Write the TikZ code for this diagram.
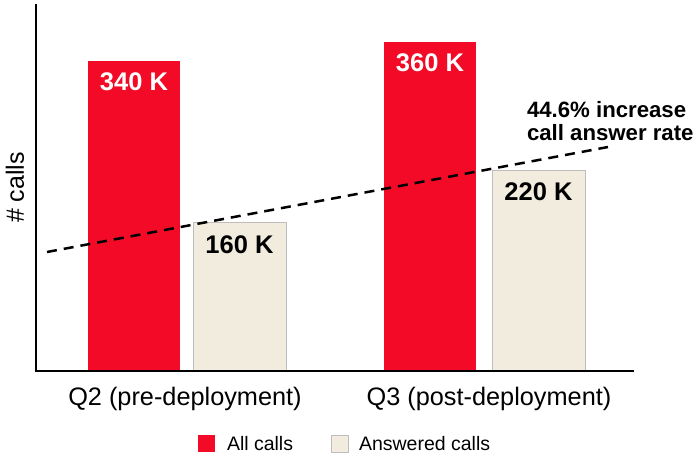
\documentclass[tikz,border=0pt]{standalone}
\usepackage{fontspec}
\setmainfont{Liberation Sans}
\usetikzlibrary{positioning}
\definecolor{callred}{HTML}{F20A26}
\definecolor{answerbeige}{HTML}{F2ECDF}
\definecolor{barborder}{HTML}{BDBDBD}

\begin{document}
\begin{tikzpicture}[
    x=1pt, y=-1pt,
    every node/.style={inner sep=0pt, outer sep=0pt},
    bar/.style={anchor=south west, minimum width=92pt},
    allbar/.style={bar, fill=callred},
    answbar/.style={bar, minimum width=93pt, fill=answerbeige, draw=barborder, line width=1pt},
    value/.style={font=\fontsize{25.5}{30}\selectfont\bfseries},
    axisline/.style={line width=2pt},
    trend/.style={line width=2.5pt, dash pattern=on 10pt off 7pt},
    catlabel/.style={font=\fontsize{25.3}{30}\selectfont},
    keybox/.style={minimum size=17pt, anchor=west},
    keytext/.style={font=\fontsize{19.5}{22}\selectfont, anchor=west}
]
    \useasboundingbox (0,0) rectangle (696,458);

    % Bars
    \node[allbar, minimum height=309pt] (q2all) at (88,370) {};
    \node[answbar, minimum height=147.5pt] (q2ans) at (193,370) {};
    \node[allbar, minimum height=328pt] (q3all) at (384,370) {};
    \node[answbar, minimum height=200pt] (q3ans) at (492,370) {};

    % Values
    \node[value, text=white, yshift=-21pt] (v340) at (q2all.north) {340 K};
    \node[value, yshift=-22.5pt] (v160) at (q2ans.north) {160 K};
    \node[value, text=white, yshift=-21pt] (v360) at (q3all.north) {360 K};
    \node[value, yshift=-22pt] (v220) at (q3ans.north) {220 K};

    % Axes
    \coordinate (ytop) at (36,4);
    \coordinate (origin) at (36,370.5);
    \coordinate (xend) at (634,370.5);
    \draw[axisline] (ytop) -- (origin) -- (xend);
    \node[font=\fontsize{25}{30}\selectfont, rotate=90] (ylabel) at (15,187.5) {\# calls};

    % Categories
    \node[catlabel] (q2) at (185,399) {Q2 (pre-deployment)};
    \node[catlabel] (q3) at (489,399) {Q3 (post-deployment)};

    % Trend line
    \coordinate (trendL) at (47,252);
    \coordinate (trendR) at (608,147);
    \draw[trend] (trendL) -- (trendR);
    \node[font=\fontsize{22.2}{23}\selectfont\bfseries, align=left, anchor=west] (rate) at (527,121)
        {44.6\% increase\\call answer rate};

    % Legend
    \node[keybox, fill=callred] (kall) at (198,443.5) {};
    \node[keytext, right=12pt of kall] (tall) {All calls};
    \node[keybox, fill=answerbeige, draw=barborder, line width=1pt] (kans) at (331,443.5) {};
    \node[keytext, right=11pt of kans] (tans) {Answered calls};
\end{tikzpicture}
\end{document}
